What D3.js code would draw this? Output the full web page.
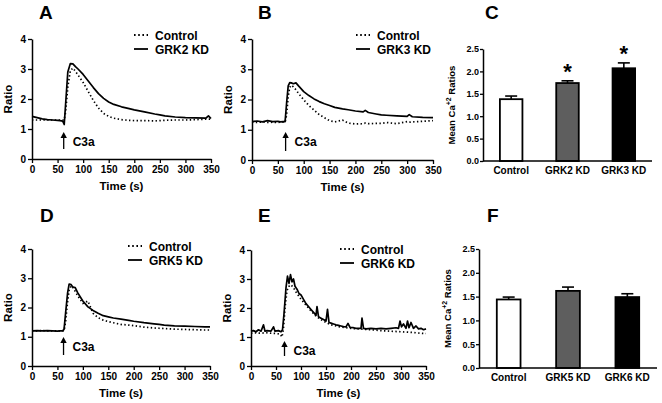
<!DOCTYPE html>
<html><head><meta charset="utf-8">
<script src="https://cdn.jsdelivr.net/npm/d3@7"></script>
<style>
body{margin:0;background:#fff}
text{font-family:"Liberation Sans",Arial,sans-serif;font-weight:bold;fill:#000}
</style>
</head><body>
<svg id="chart" width="662" height="403" style="background:#fff"></svg>
<script>
// ---------- DATA ----------
const timeTicks = [0,50,100,150,200,250,300,350];
const ratioTicks = [0,1,2,3,4];
const meanTicks = [0.0,0.5,1.0,1.5,2.0,2.5];

// Panel A
const timeA = [0,10,20,30,40,50,55,60,63,66,70,75,80,85,90,100,110,120,130,140,150,160,175,190,200,220,240,250,260,280,300,320,340,345,350];
const controlA = [1.3,1.3,1.3,1.3,1.3,1.3,1.3,1.3,1.3,1.6,2.4,2.95,3.03,2.92,2.8,2.55,2.25,1.95,1.7,1.52,1.42,1.36,1.31,1.29,1.28,1.28,1.27,1.28,1.29,1.30,1.30,1.31,1.33,1.33,1.33];
const grk2A = [1.42,1.38,1.34,1.31,1.30,1.29,1.28,1.26,1.15,1.9,2.9,3.18,3.17,3.08,3.0,2.82,2.6,2.38,2.18,2.02,1.9,1.82,1.74,1.68,1.64,1.57,1.5,1.47,1.44,1.40,1.38,1.37,1.36,1.44,1.35];

// Panel B
const timeB = [0,10,20,30,40,50,55,60,64,67,70,73,76,80,85,90,100,110,120,130,140,150,160,175,186,200,215,219,225,240,250,260,280,300,304,310,330,350];
const controlB = [1.25,1.24,1.26,1.24,1.25,1.24,1.25,1.25,1.25,1.5,2.1,2.4,2.47,2.42,2.32,2.2,1.99,1.8,1.65,1.5,1.4,1.3,1.26,1.32,1.22,1.19,1.2,1.22,1.2,1.21,1.21,1.24,1.2,1.27,1.25,1.26,1.28,1.3];
const grk3B = [1.27,1.29,1.26,1.30,1.27,1.28,1.26,1.27,1.27,1.9,2.45,2.56,2.55,2.52,2.55,2.45,2.26,2.13,2.02,1.93,1.86,1.8,1.74,1.69,1.66,1.62,1.59,1.64,1.57,1.52,1.49,1.48,1.46,1.44,1.5,1.43,1.41,1.4];

// Panel D
const timeD = [0,10,20,30,40,50,55,60,63,66,70,73,77,80,85,90,100,110,120,130,140,150,160,175,190,200,220,240,250,260,280,300,320,340,350];
const controlD = [1.2,1.2,1.21,1.2,1.2,1.2,1.2,1.2,1.2,1.5,2.2,2.6,2.74,2.7,2.55,2.4,2.14,2.22,1.8,1.65,1.57,1.52,1.48,1.42,1.4,1.38,1.33,1.3,1.29,1.28,1.26,1.25,1.24,1.23,1.23];
const grk5D = [1.2,1.21,1.2,1.21,1.2,1.19,1.2,1.2,1.25,1.8,2.5,2.8,2.78,2.7,2.68,2.5,2.22,2.02,1.9,1.8,1.72,1.68,1.64,1.6,1.56,1.53,1.48,1.44,1.42,1.4,1.37,1.36,1.35,1.34,1.34];

// Panel E
const timeEControl = [0,10,20,30,40,50,58,62,65,68,72,76,80,85,90,100,110,120,130,140,150,160,175,190,200,220,240,260,280,300,320,340,350];
const controlE = [1.13,1.14,1.13,1.15,1.13,1.12,1.1,1.0,1.3,2.0,2.6,2.75,2.8,2.7,2.55,2.3,2.1,1.9,1.72,1.6,1.5,1.42,1.36,1.32,1.3,1.27,1.25,1.22,1.2,1.18,1.16,1.13,1.12];
const timeEGrk6 = [0,5,10,15,20,25,28,32,40,45,48,55,60,63,66,70,73,76,79,82,85,88,92,96,100,105,110,115,120,125,130,132,135,140,145,150,153,156,160,165,170,175,180,185,190,194,198,205,210,215,220,222,225,230,240,250,260,270,280,290,295,298,301,305,310,313,316,320,325,330,335,340,345,350];
const grk6E = [1.2,1.22,1.18,1.25,1.2,1.42,1.2,1.22,1.2,1.35,1.2,1.22,1.18,1.25,1.8,2.7,3.1,2.85,3.15,2.9,3.0,2.75,2.65,2.5,2.45,2.3,2.15,2.05,1.95,1.85,1.75,2.05,1.7,1.65,1.6,1.55,1.95,1.5,1.48,1.45,1.42,1.4,1.38,1.36,1.35,1.47,1.33,1.32,1.3,1.3,1.3,1.65,1.3,1.28,1.3,1.28,1.3,1.28,1.3,1.32,1.3,1.55,1.35,1.45,1.3,1.55,1.32,1.5,1.3,1.38,1.28,1.3,1.25,1.28];

// Panel C
const categoriesC = ["Control","GRK2 KD","GRK3 KD"];
const meansC = [1.38,1.74,2.07];
const semC = [0.07,0.05,0.12];
const sigC = [false,true,true];

// Panel F
const categoriesF = ["Control","GRK5 KD","GRK6 KD"];
const meansF = [1.44,1.62,1.49];
const semF = [0.05,0.08,0.07];
const sigF = [false,false,false];

const barFills = ["#ffffff","#5e5e5e","#000000"];

// ---------- DRAW ----------
const svg = d3.select("#chart");

function styleAxis(g){
  g.select(".domain").attr("stroke","#000").attr("stroke-width",1.5);
  g.selectAll(".tick line").attr("stroke","#000").attr("stroke-width",1.3);
  g.selectAll(".tick text").style("font-size","10px").attr("fill","#000");
}

function panelLetter(txt, x, y){
  svg.append("text").attr("x",x).attr("y",y).style("font-size","19px").text(txt);
}

function linePanel(p){
  const x = d3.scaleLinear().domain([0,350]).range([p.x0,p.x1]);
  const y = d3.scaleLinear().domain([0,4]).range([p.y0,p.y1]);
  const g = svg.append("g");
  const line = d3.line().x(d=>x(d[0])).y(d=>y(d[1]));

  g.append("path").datum(d3.zip(p.tc,p.vc)).attr("d",line)
    .attr("fill","none").attr("stroke","#000").attr("stroke-width",1.7)
    .attr("stroke-dasharray","1.4,2.4");
  g.append("path").datum(d3.zip(p.tk,p.vk)).attr("d",line)
    .attr("fill","none").attr("stroke","#000").attr("stroke-width",1.7)
    .attr("stroke-linejoin","round");

  const ax = g.append("g").attr("transform",`translate(0,${p.y0})`)
    .call(d3.axisBottom(x).tickValues(timeTicks).tickSize(4).tickSizeOuter(0).tickPadding(3));
  styleAxis(ax);
  const ay = g.append("g").attr("transform",`translate(${p.x0},0)`)
    .call(d3.axisLeft(y).tickValues(ratioTicks).tickFormat(d3.format("d")).tickSize(4).tickSizeOuter(0).tickPadding(2));
  styleAxis(ay);

  g.append("text").attr("x",(p.x0+p.x1)/2).attr("y",p.y0+31).attr("text-anchor","middle")
    .style("font-size","11.5px").text("Time (s)");
  g.append("text").attr("transform",`translate(${p.x0-20},${(p.y0+p.y1)/2}) rotate(-90)`)
    .attr("text-anchor","middle").style("font-size","11.5px").text("Ratio");

  // legend
  g.append("line").attr("x1",p.lgx).attr("x2",p.lgx+14).attr("y1",p.lgy).attr("y2",p.lgy)
    .attr("stroke","#000").attr("stroke-width",1.8).attr("stroke-dasharray","1.6,2.6");
  g.append("text").attr("x",p.lgx+21).attr("y",p.lgy+4.5).style("font-size","12px").text("Control");
  g.append("line").attr("x1",p.lgx).attr("x2",p.lgx+14).attr("y1",p.lgy+14).attr("y2",p.lgy+14)
    .attr("stroke","#000").attr("stroke-width",1.8);
  g.append("text").attr("x",p.lgx+21).attr("y",p.lgy+18.5).style("font-size","12px").text(p.name);

  // C3a arrow
  const axp = x(p.arrowT);
  g.append("line").attr("x1",axp).attr("x2",axp).attr("y1",p.arTop+5).attr("y2",p.arBot)
    .attr("stroke","#000").attr("stroke-width",1.3);
  g.append("path").attr("d",`M${axp},${p.arTop} L${axp-3.2},${p.arTop+6} L${axp+3.2},${p.arTop+6} Z`).attr("fill","#000");
  g.append("text").attr("x",axp+9).attr("y",p.arTop+14).style("font-size","12px").text("C3a");
}

function barPanel(p){
  const x = d3.scaleBand().domain(p.cats).range([p.x0,p.x1]).paddingInner(0.6).paddingOuter(0.3);
  const y = d3.scaleLinear().domain([0,2.5]).range([p.y0,p.y1]);
  const g = svg.append("g");
  const bw = x.bandwidth();
  p.cats.forEach((c,i)=>{
    const cx = x(c)+bw/2;
    const top = y(p.means[i]);
    const etop = y(p.means[i]+p.sem[i]);
    g.append("line").attr("x1",cx).attr("x2",cx).attr("y1",top).attr("y2",etop).attr("stroke","#000").attr("stroke-width",1.6);
    g.append("line").attr("x1",cx-6).attr("x2",cx+6).attr("y1",etop).attr("y2",etop).attr("stroke","#000").attr("stroke-width",1.6);
    g.append("rect").attr("x",x(c)).attr("y",top).attr("width",bw).attr("height",p.y0-top)
      .attr("fill",barFills[i]).attr("stroke","#000").attr("stroke-width",1.8);
    if(p.sig[i]) g.append("text").attr("x",cx).attr("y",etop-2).attr("text-anchor","middle")
      .style("font-size","22px").text("*");
    g.append("text").attr("x",cx).attr("y",p.y0+13).attr("text-anchor","middle").style("font-size","10px").text(c);
  });
  const ay = g.append("g").attr("transform",`translate(${p.x0},0)`)
    .call(d3.axisLeft(y).tickValues(meanTicks).tickFormat(d3.format(".1f")).tickSize(3).tickSizeOuter(0).tickPadding(1));
  styleAxis(ay);
  ay.selectAll(".tick text").style("font-size","9px");
  g.append("line").attr("x1",p.x0).attr("x2",p.x1).attr("y1",p.y0).attr("y2",p.y0).attr("stroke","#000").attr("stroke-width",1.5);
  const t = g.append("text").attr("transform",`translate(${p.x0-28},${(p.y0+p.y1)/2}) rotate(-90)`)
    .attr("text-anchor","middle").style("font-size","9.5px");
  t.append("tspan").text("Mean Ca");
  t.append("tspan").attr("dy","-4").style("font-size","7px").text("+2");
  t.append("tspan").attr("dy","4").text(" Ratios");
}

linePanel({x0:32,x1:211,y0:159,y1:39,tc:timeA,vc:controlA,tk:timeA,vk:grk2A,name:"GRK2 KD",lgx:134,lgy:35,arrowT:62,arTop:132,arBot:149});
linePanel({x0:252,x1:433,y0:160,y1:39,tc:timeB,vc:controlB,tk:timeB,vk:grk3B,name:"GRK3 KD",lgx:356,lgy:35,arrowT:65,arTop:132,arBot:151});
linePanel({x0:32,x1:210,y0:366,y1:249,tc:timeD,vc:controlD,tk:timeD,vk:grk5D,name:"GRK5 KD",lgx:128,lgy:246,arrowT:62,arTop:337,arBot:355});
linePanel({x0:251,x1:426,y0:366,y1:250,tc:timeEControl,vc:controlE,tk:timeEGrk6,vk:grk6E,name:"GRK6 KD",lgx:340,lgy:249,arrowT:67,arTop:341,arBot:356});

barPanel({x0:483,x1:652,y0:161,y1:49,cats:categoriesC,means:meansC,sem:semC,sig:sigC});
barPanel({x0:479,x1:657,y0:368,y1:249,cats:categoriesF,means:meansF,sem:semF,sig:sigF});

panelLetter("A",39,19);
panelLetter("B",258,19);
panelLetter("C",485,19);
panelLetter("D",40,222);
panelLetter("E",258,222);
panelLetter("F",487,222);
</script>
</body></html>
